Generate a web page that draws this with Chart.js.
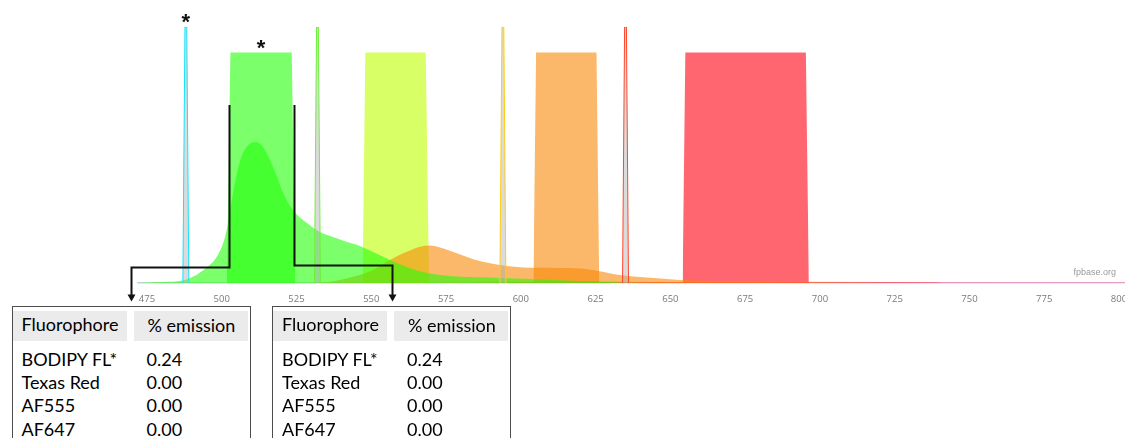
<!DOCTYPE html>
<html lang="en">
<head>
<meta charset="UTF-8">
<title>Filter set spectra</title>
<script src="https://cdn.jsdelivr.net/npm/chart.js"></script>
<style>
    body {
        margin: 0;
        width: 1125px;
        height: 438px;
        overflow: hidden;
        background: #fff;
        position: relative;
        font-family: Lato, "Open Sans", sans-serif;
    }
    #spectra {
        position: absolute;
        left: 0;
        top: 0;
    }
    .box {
        position: absolute;
        top: 306px;
        width: 239px;
        height: 200px;
        box-sizing: border-box;
        border: 1.5px solid #4d4d4d;
        background: #fff;
        font-size: 18px;
        color: #000;
    }
    .head {
        position: absolute;
        top: 4.2px;
        width: 114px;
        height: 30px;
        background: #ebebeb;
        line-height: 23px;
        white-space: nowrap;
    }
    .cell {
        position: absolute;
        line-height: 23px;
        white-space: nowrap;
    }
</style>
</head>
<body>
<canvas id="spectra" width="1150" height="438"></canvas>
<div id="tables"></div>

<script>
// x axis ticks (nm)
const tickValues = [475, 500, 525, 550, 575, 600, 625, 650, 675, 700, 725, 750, 775, 800];

// BODIPY FL emission
const bodipyWl = [472, 475, 480, 487.7, 495.4, 498.7, 501.1, 502.1, 503.4, 505.1, 507.1, 511.5, 513.8, 516.1, 518.5, 520.5, 523.8, 528.5, 532.8, 537.2, 541.9, 546.2, 550.6, 556.3, 561.9, 568.6, 578.7, 593, 603, 623, 640];
const bodipyEm = [0.001, 0.002, 0.004, 0.012, 0.064, 0.109, 0.18, 0.234, 0.324, 0.43, 0.508, 0.551, 0.531, 0.48, 0.414, 0.352, 0.285, 0.234, 0.199, 0.18, 0.16, 0.145, 0.121, 0.09, 0.0625, 0.039, 0.025, 0.02, 0.016, 0.006, 0];

// AF555 emission
const af555Wl = [530, 535, 539.5, 550.7, 556.3, 561.8, 566.3, 569.6, 573, 578.6, 584.1, 589.7, 595.3, 600.8, 606.4, 619.8, 625.4, 633.2, 642.1, 653.2, 664.4, 675, 700, 725];
const af555Em = [0, 0.003, 0.012, 0.051, 0.09, 0.122, 0.142, 0.146, 0.139, 0.116, 0.093, 0.077, 0.066, 0.061, 0.06, 0.057, 0.048, 0.031, 0.021, 0.012, 0.008, 0.005, 0.002, 0];

// Texas Red and AF647 emission (near zero at this scale)
const texasRedWl = [585, 600, 615, 630, 650, 680, 720, 740];
const texasRedEm = [0, 0.002, 0.004, 0.003, 0.002, 0.001, 0.0005, 0];
const af647Wl = [640, 660, 670, 690, 720, 760, 802];
const af647Em = [0, 0.002, 0.004, 0.003, 0.002, 0.001, 0.0005];

// emission filters
const filter1Wl = [501.7, 502.9, 523.4, 524.6];
const filter2Wl = [547.1, 548.0, 568.2, 569.3];
const filter3Wl = [604.2, 605.1, 625.3, 626.2];
const filter4Wl = [654.1, 655.0, 695.3, 696.3];
const filterT = [0, 0.9, 0.9, 0];

// laser lines
const laserLines = [488, 532, 594, 635];
const laserColors = ['rgb(20,228,255)', 'rgb(110,240,60)', 'rgb(255,205,20)', 'rgb(255,70,45)'];
const laserOffset = [-1.0, -0.3, 0.3, 1.0];
const laserProfile = [0, 1, 1, 0];

// tables
const fluorophores = ['BODIPY FL*', 'Texas Red', 'AF555', 'AF647'];
const emissionLeft = ['0.24', '0.00', '0.00', '0.00'];
const emissionRight = ['0.24', '0.00', '0.00', '0.00'];
const tableLeft = [11.5, 272];
const tableTop = 306;
const tableWidth = 239;

// connector lines from the filter edges
const connectorWl = [502.3, 524.0];
const connectorTop = 0.695;
const connectorElbow = [0.064, 0.07];

const pts = (xs, ys) => xs.map((v, i) => ({ x: v, y: ys[i] }));

const datasets = [];
laserLines.forEach((wl, i) => {
    datasets.push({
        data: pts(laserOffset.map(o => wl + o), laserProfile),
        borderColor: laserColors[i],
        backgroundColor: 'rgba(175,175,175,0.45)',
        borderWidth: 1,
        fill: 'origin',
        order: 0
    });
});
[[filter1Wl, 'rgba(35,255,8,0.6)'], [filter2Wl, 'rgba(192,255,0,0.6)'],
 [filter3Wl, 'rgba(248,137,7,0.6)'], [filter4Wl, 'rgba(255,0,17,0.6)']].forEach(([wl, c]) => {
    datasets.push({ data: pts(wl, filterT), backgroundColor: c, borderWidth: 0, fill: 'origin', order: 2 });
});
datasets.push({ data: pts(bodipyWl, bodipyEm), backgroundColor: 'rgba(35,255,8,0.6)', borderWidth: 0, fill: 'origin', cubicInterpolationMode: 'monotone', order: 1 });
datasets.push({ data: pts(af555Wl, af555Em), backgroundColor: 'rgba(248,137,7,0.6)', borderWidth: 0, fill: 'origin', cubicInterpolationMode: 'monotone', order: 1 });
datasets.push({ data: pts(texasRedWl, texasRedEm), backgroundColor: 'rgba(255,40,40,0.6)', borderColor: 'rgba(255,60,60,0.6)', borderWidth: 1, fill: 'origin', cubicInterpolationMode: 'monotone', order: 1 });
datasets.push({ data: pts(af647Wl, af647Em), backgroundColor: 'rgba(255,60,140,0.5)', borderColor: 'rgba(255,110,160,0.6)', borderWidth: 1, fill: 'origin', cubicInterpolationMode: 'monotone', order: 1 });

const annotate = {
    id: 'annotate',
    afterDraw(chart) {
        const { ctx, chartArea, scales: { x, y } } = chart;
        ctx.save();
        // stars on the used laser and filter
        ctx.font = 'bold 22px "Liberation Sans"';
        ctx.fillStyle = '#111';
        ctx.textAlign = 'center';
        ctx.textBaseline = 'alphabetic';
        ctx.fillText('*', x.getPixelForValue(laserLines[0]), y.getPixelForValue(1) + 2.3);
        ctx.fillText('*', x.getPixelForValue((filter1Wl[1] + filter1Wl[2]) / 2), y.getPixelForValue(filterT[1]) + 2.3);

        ctx.font = '9px "Liberation Sans"';
        ctx.fillStyle = '#9a9a9a';
        ctx.textAlign = 'right';
        ctx.fillText('fpbase.org', chartArea.right - 9, chartArea.bottom - 8);

        // connectors to the tables
        ctx.strokeStyle = '#111';
        ctx.fillStyle = '#111';
        ctx.lineWidth = 2;
        const tip = tableTop - 4.5;
        connectorWl.forEach((wl, i) => {
            const x0 = Math.round(x.getPixelForValue(wl)) + 0.5;
            const ye = Math.round(y.getPixelForValue(connectorElbow[i])) + 0.5;
            const xt = Math.round(tableLeft[i] + tableWidth / 2) + 0.5;
            ctx.beginPath();
            ctx.moveTo(x0, y.getPixelForValue(connectorTop));
            ctx.lineTo(x0, ye);
            ctx.lineTo(xt, ye);
            ctx.lineTo(xt, tip - 6);
            ctx.stroke();
            ctx.beginPath();
            ctx.moveTo(xt - 4, tip - 7);
            ctx.lineTo(xt + 4, tip - 7);
            ctx.lineTo(xt, tip);
            ctx.closePath();
            ctx.fill();
        });
        ctx.restore();
    }
};

new Chart(document.getElementById('spectra'), {
    type: 'line',
    data: { datasets },
    options: {
        responsive: false,
        animation: false,
        events: [],
        layout: { padding: { left: 138, right: 25, top: 27, bottom: 135 } },
        elements: { point: { radius: 0 }, line: { tension: 0 } },
        plugins: { legend: { display: false }, tooltip: { enabled: false } },
        scales: {
            x: {
                type: 'linear',
                min: 472,
                max: 802,
                grid: { display: false },
                border: { display: true, color: 'rgba(205,210,232,1)', width: 1.5 },
                afterBuildTicks: s => { s.ticks = tickValues.map(v => ({ value: v })); },
                afterFit: s => { s.height = 20; },
                ticks: {
                    padding: 3,
                    color: '#7a7a7a',
                    font: { family: '"Open Sans"', size: 9.5 },
                    callback: v => String(v)
                }
            },
            y: { display: false, min: 0, max: 1 }
        }
    },
    plugins: [annotate]
});

// tables
const holder = document.getElementById('tables');
[emissionLeft, emissionRight].forEach((vals, t) => {
    const box = document.createElement('div');
    box.className = 'box';
    box.style.left = tableLeft[t] + 'px';
    let html = '<div class="head" style="left:0"><span style="position:absolute;left:9px;top:1.5px">Fluorophore</span></div>' +
               '<div class="head" style="left:121px"><span style="position:absolute;left:14px;top:3px">% emission</span></div>';
    fluorophores.forEach((name, r) => {
        const top = 40.7 + r * 23.33;
        html += '<div class="cell" style="left:9px;top:' + top + 'px">' + name + '</div>';
        html += '<div class="cell" style="left:134px;top:' + top + 'px">' + vals[r] + '</div>';
    });
    box.innerHTML = html;
    holder.appendChild(box);
});
</script>
</body>
</html>
